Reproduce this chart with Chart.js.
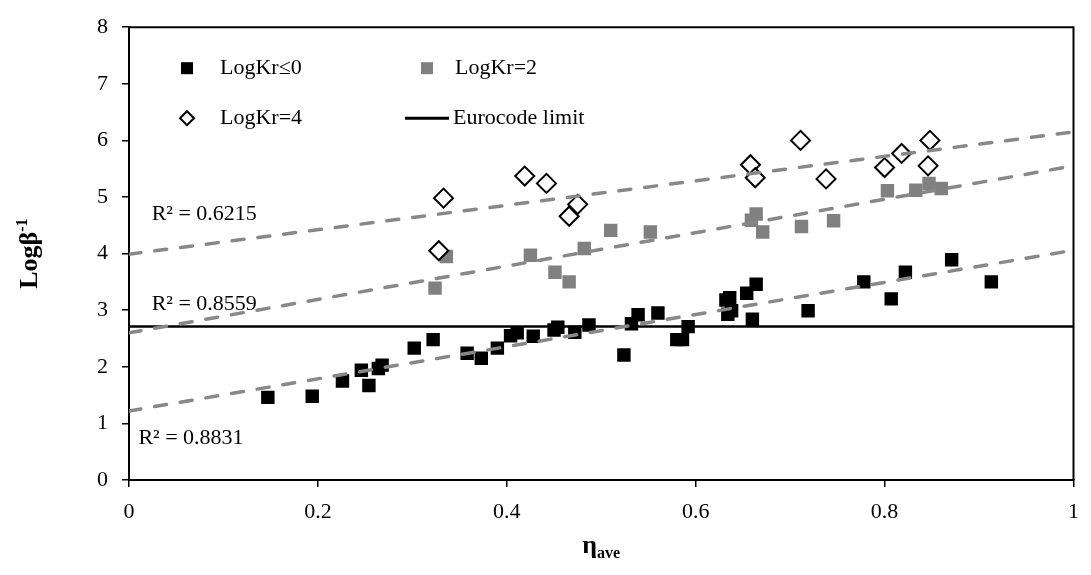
<!DOCTYPE html>
<html>
<head>
<meta charset="utf-8">
<script src="https://cdn.jsdelivr.net/npm/chart.js@4"></script>
<style>
  body { margin: 0; background: #fff; }
  #wrap { width: 1091px; height: 575px; }
</style>
</head>
<body>
<div id="wrap"><canvas id="myChart" width="1091" height="575"></canvas></div>
<script>
// values
var kr0X = [0.147, 0.194, 0.226, 0.246, 0.254, 0.264, 0.268, 0.302, 0.322, 0.358, 0.373, 0.39, 0.404, 0.411, 0.428, 0.45, 0.454, 0.472, 0.487, 0.524, 0.532, 0.539, 0.56, 0.58, 0.586, 0.592, 0.632, 0.636, 0.634, 0.638, 0.654, 0.664, 0.66, 0.719, 0.778, 0.807, 0.822, 0.871, 0.913];
var kr0Y = [1.46, 1.48, 1.75, 1.94, 1.67, 1.97, 2.03, 2.33, 2.48, 2.24, 2.15, 2.33, 2.55, 2.6, 2.54, 2.65, 2.7, 2.61, 2.74, 2.21, 2.76, 2.92, 2.95, 2.48, 2.48, 2.71, 3.18, 3.22, 2.93, 2.99, 3.3, 3.46, 2.84, 2.99, 3.5, 3.2, 3.67, 3.89, 3.5];

var kr2X = [0.324, 0.336, 0.425, 0.451, 0.466, 0.482, 0.51, 0.552, 0.659, 0.664, 0.671, 0.712, 0.746, 0.803, 0.833, 0.847, 0.86];
var kr2Y = [3.39, 3.95, 3.97, 3.67, 3.5, 4.09, 4.41, 4.38, 4.59, 4.7, 4.38, 4.48, 4.58, 5.11, 5.12, 5.24, 5.15];

var kr4X = [0.328, 0.333, 0.419, 0.442, 0.466, 0.475, 0.658, 0.663, 0.711, 0.738, 0.8, 0.818, 0.846, 0.848];
var kr4Y = [4.05, 4.98, 5.37, 5.24, 4.66, 4.87, 5.57, 5.34, 6.0, 5.32, 5.52, 5.77, 5.55, 6.0];

// trendline ends at x = 0 and x = 1
var trendX = [0, 1];
var trendKr0 = [1.22, 4.06];
var trendKr2 = [2.6, 5.55];
var trendKr4 = [3.99, 6.15];
var eurocodeY = [2.71, 2.71];

var r2Labels = ["R\u00b2 = 0.6215", "R\u00b2 = 0.8559", "R\u00b2 = 0.8831"];
var legendLabels = ["LogKr\u22640", "LogKr=2", "LogKr=4", "Eurocode limit"];
var xTicks = [0, 0.2, 0.4, 0.6, 0.8, 1];

function zip(xs, ys) {
  var out = [];
  for (var i = 0; i < xs.length; i++) out.push({ x: xs[i], y: ys[i] });
  return out;
}

var serif = "'Liberation Serif', 'Times New Roman', serif";

function trend(ys) {
  return {
    data: zip(trendX, ys),
    showLine: true,
    pointRadius: 0,
    borderColor: "#888888",
    borderWidth: 3.5,
    borderDash: [12, 14],
    borderCapStyle: "round",
    order: 0
  };
}

// text with a raised / lowered small part
function drawMixed(ctx, cx, cy, base, small, raise) {
  ctx.font = "bold 26px " + serif;
  var w1 = ctx.measureText(base).width;
  ctx.font = "bold 16px " + serif;
  var w2 = ctx.measureText(small).width;
  var x0 = cx - (w1 + w2) / 2;
  ctx.textAlign = "left";
  ctx.textBaseline = "alphabetic";
  ctx.font = "bold 26px " + serif;
  ctx.fillText(base, x0, cy + 8);
  ctx.font = "bold 16px " + serif;
  ctx.fillText(small, x0 + w1, cy + 8 + raise);
}

var extras = {
  id: "extras",
  afterDraw: function(chart) {
    var ctx = chart.ctx;
    var a = chart.chartArea;
    var xs = chart.scales.x, ys = chart.scales.y;
    ctx.save();
    // box
    ctx.strokeStyle = "#000";
    ctx.lineWidth = 2;
    ctx.beginPath();
    ctx.moveTo(a.left, a.top);
    ctx.lineTo(a.right, a.top);
    ctx.lineTo(a.right, a.bottom);
    ctx.stroke();

    ctx.fillStyle = "#000";
    // R² labels
    ctx.font = "22px " + serif;
    ctx.textAlign = "left";
    ctx.textBaseline = "middle";
    ctx.fillText(r2Labels[0], xs.getPixelForValue(0.024), ys.getPixelForValue(4.69));
    ctx.fillText(r2Labels[1], xs.getPixelForValue(0.024), ys.getPixelForValue(3.1));
    ctx.fillText(r2Labels[2], xs.getPixelForValue(0.01), ys.getPixelForValue(0.74));

    // legend
    var row1 = a.top + 41, row2 = a.top + 91;
    var c1 = a.left + 58, c2 = a.left + 298;
    ctx.fillStyle = "#000";
    ctx.fillRect(c1 - 6, row1 - 6, 12, 12);
    ctx.fillStyle = "#808080";
    ctx.fillRect(c2 - 6, row1 - 6, 12, 12);
    ctx.strokeStyle = "#000";
    ctx.lineWidth = 2;
    ctx.beginPath();
    ctx.moveTo(c1, row2 - 7);
    ctx.lineTo(c1 + 7, row2);
    ctx.lineTo(c1, row2 + 7);
    ctx.lineTo(c1 - 7, row2);
    ctx.closePath();
    ctx.stroke();
    ctx.lineWidth = 3;
    ctx.beginPath();
    ctx.moveTo(a.left + 276, row2);
    ctx.lineTo(a.left + 320, row2);
    ctx.stroke();
    ctx.fillStyle = "#000";
    ctx.font = "22px " + serif;
    ctx.textBaseline = "middle";
    ctx.fillText(legendLabels[0], a.left + 91, row1);
    ctx.fillText(legendLabels[1], a.left + 326, row1);
    ctx.fillText(legendLabels[2], a.left + 91, row2);
    ctx.fillText(legendLabels[3], a.left + 324, row2);

    // axis titles
    drawMixed(ctx, (a.left + a.right) / 2, 545, "\u03b7", "ave", 5);
    ctx.translate(29, (a.top + a.bottom) / 2);
    ctx.rotate(-Math.PI / 2);
    drawMixed(ctx, 0, 0, "Log\u03b2", "-1", -10);
    ctx.restore();
  }
};

new Chart(document.getElementById("myChart"), {
  type: "scatter",
  data: {
    datasets: [
      {
        label: legendLabels[0],
        data: zip(kr0X, kr0Y),
        pointStyle: "rect",
        pointRadius: 9.5,
        backgroundColor: "#000",
        borderColor: "#000",
        borderWidth: 0,
        order: 3
      },
      {
        label: legendLabels[1],
        data: zip(kr2X, kr2Y),
        pointStyle: "rect",
        pointRadius: 9.5,
        backgroundColor: "#808080",
        borderColor: "#808080",
        borderWidth: 0,
        order: 3
      },
      {
        label: legendLabels[2],
        data: zip(kr4X, kr4Y),
        pointStyle: "rectRot",
        pointRadius: 9.5,
        backgroundColor: "#fff",
        borderColor: "#000",
        borderWidth: 2,
        order: 2
      },
      {
        label: legendLabels[3],
        data: zip(trendX, eurocodeY),
        showLine: true,
        pointRadius: 0,
        borderColor: "#000",
        borderWidth: 2.5,
        order: 1
      },
      trend(trendKr4),
      trend(trendKr2),
      trend(trendKr0)
    ]
  },
  options: {
    responsive: false,
    animation: false,
    layout: { padding: { top: 16, right: 6, left: 0, bottom: 0 } },
    plugins: {
      legend: { display: false },
      tooltip: { enabled: false }
    },
    scales: {
      x: {
        type: "linear",
        min: 0,
        max: 1,
        afterBuildTicks: function(scale) {
          scale.ticks = xTicks.map(function(v) { return { value: v }; });
        },
        ticks: {
          color: "#000",
          padding: 12,
          font: { family: serif, size: 22 },
          callback: function(v) { return String(Math.round(v * 10) / 10); }
        },
        grid: { drawOnChartArea: false, color: "#000", tickLength: 7, lineWidth: 1.5 },
        border: { color: "#000", width: 2 },
        afterFit: function(scale) { scale.height = 95; }
      },
      y: {
        min: 0,
        max: 8,
        ticks: {
          stepSize: 1,
          color: "#000",
          padding: 14,
          font: { family: serif, size: 22 }
        },
        grid: { drawOnChartArea: false, color: "#000", tickLength: 7, lineWidth: 1.5 },
        border: { color: "#000", width: 2 },
        afterFit: function(scale) { scale.width = 129; }
      }
    }
  },
  plugins: [extras]
});
</script>
</body>
</html>
